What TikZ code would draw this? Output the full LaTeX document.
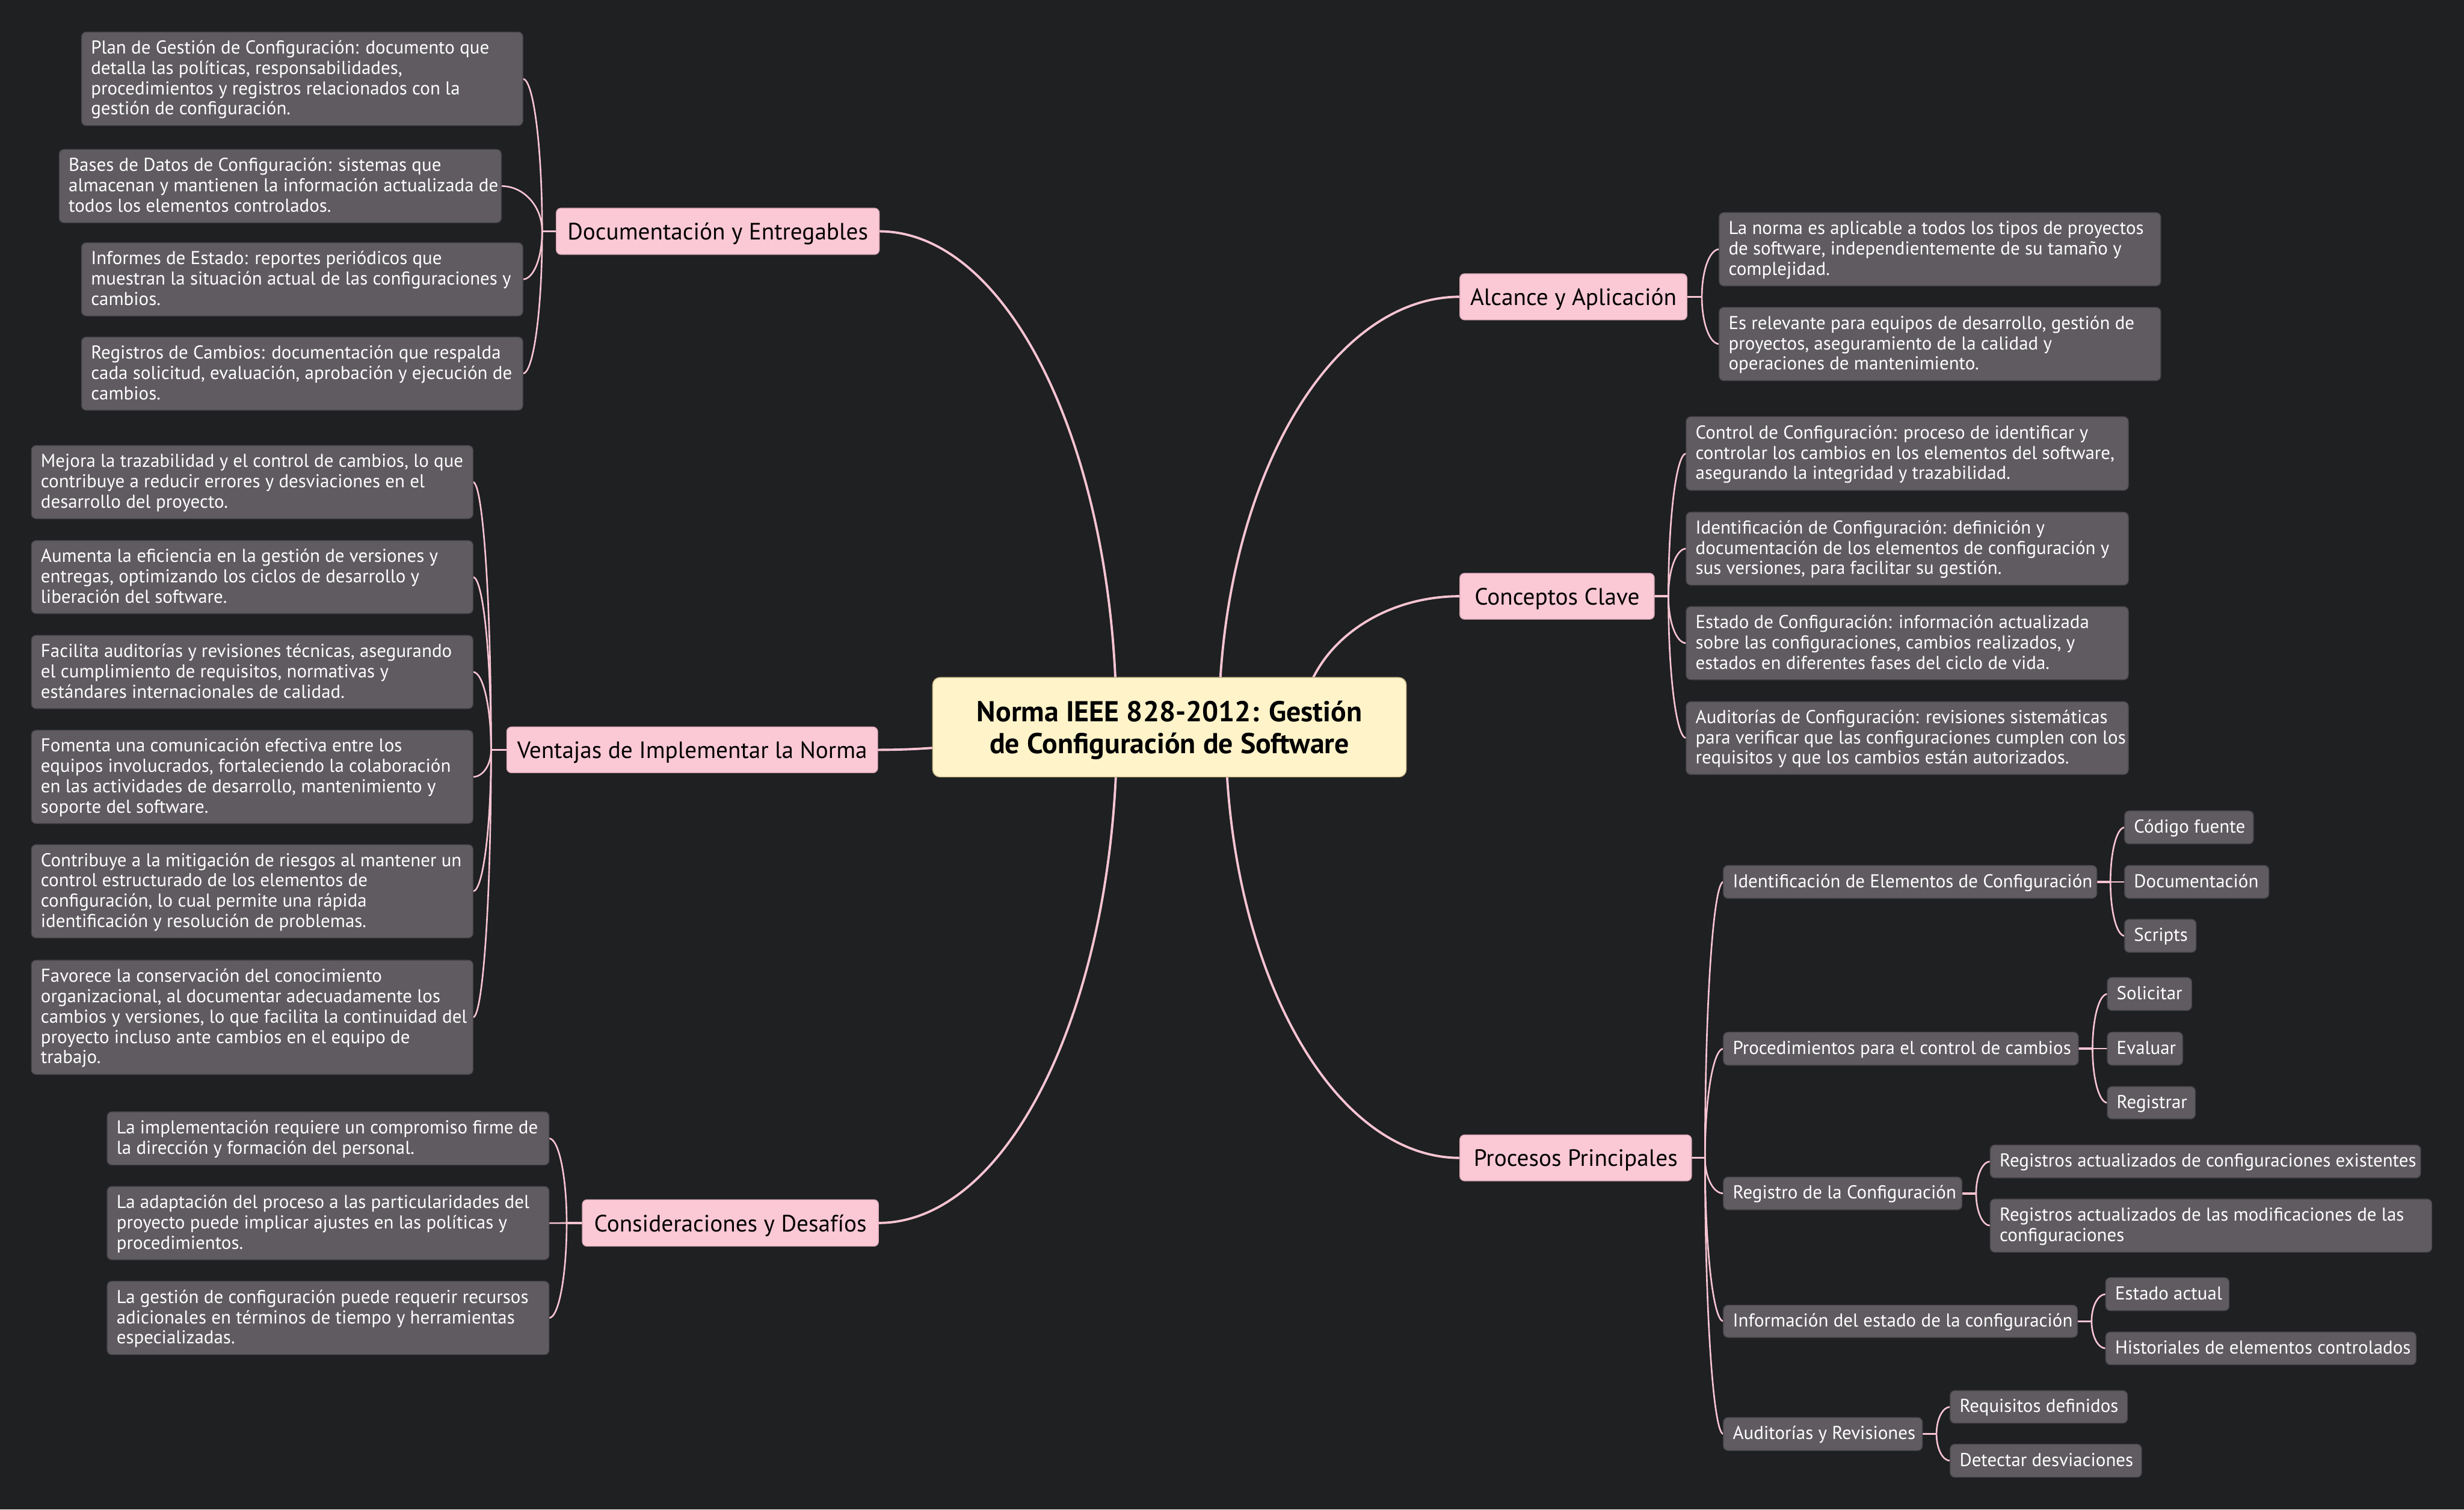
\documentclass[tikz,border=0pt]{standalone}
\usepackage{fontspec}
\setmainfont{PT Sans}
\usetikzlibrary{calc}
\definecolor{bgc}{HTML}{1E2022}
\definecolor{leaff}{HTML}{5F5B60}
\definecolor{leafd}{HTML}{48454A}
\definecolor{pinkf}{HTML}{FBC8D6}
\definecolor{pinkd}{HTML}{DDAAB8}
\definecolor{rootf}{HTML}{FFF3C9}
\definecolor{rootd}{HTML}{C9B98A}
\definecolor{linec}{HTML}{F8C4D2}
\pgfdeclarelayer{bglayer}
\pgfdeclarelayer{linelayer}
\pgfsetlayers{bglayer,linelayer,main}
% box with left-aligned text: style, name, x1, y1, x2, y2, text
\newcommand\bx[7]{%
  \pgfmathsetmacro\bw{(#5-#3)*0.7423}%
  \pgfmathsetmacro\bh{(#6-#4)*0.7423}%
  \pgfmathsetmacro\tw{(#5-#3-12)*0.7423}%
  \node[#1, minimum width=\bw pt, minimum height=\bh pt] (#2) at ({(#3+#5)/2},{(#4+#6)/2})
    {\makebox[\tw pt][l]{\raisebox{-0.7pt}[\height][\depth]{\begin{tabular}{@{}l@{}}#7\end{tabular}}}};}
% box with centred text
\newcommand\bc[7]{%
  \pgfmathsetmacro\bw{(#5-#3)*0.7423}%
  \pgfmathsetmacro\bh{(#6-#4)*0.7423}%
  \node[#1, minimum width=\bw pt, minimum height=\bh pt] (#2) at ({(#3+#5)/2},{(#4+#6)/2}) {#7};}
% elliptic connector
\newcommand\elc[3]{%
  \draw[#1] let \p1=(#2), \p2=(#3) in
    (\p1) .. controls (\x1,{\y1+0.552*(\y2-\y1)}) and ({\x2+0.552*(\x1-\x2)},\y2) .. (\p2);}
% fan: parent, parent anchor, child anchor, dx, children
\newcommand\fan[5]{%
  \coordinate (#1T) at ($(#1.#2)+(#4,0)$);
  \draw[stubline] (#1.#2) -- (#1T);
  \foreach \c in {#5}{\elc{subline}{#1T}{\c.#3}}}
\tikzset{
  leaf/.style={fill=leaff, draw=leafd, line width=0.4pt, rounded corners=2.2pt, inner sep=0pt, outer sep=0pt, text=white, font=\fontsize{8.8}{9.6}\selectfont},
  pinkbox/.style={fill=pinkf, draw=pinkd, line width=0.4pt, rounded corners=2.2pt, inner sep=0pt, outer sep=0pt, text=black, text depth=0pt, font=\fontsize{11.15}{13}\selectfont},
  rootbox/.style={fill=rootf, draw=rootd, line width=0.4pt, rounded corners=3.5pt, inner sep=0pt, outer sep=0pt, text=black, text depth=0pt, align=center, font=\bfseries\fontsize{13.6}{15.2}\selectfont},
  mainline/.style={draw=linec, line width=1.1pt},
  subline/.style={draw=linec, line width=0.75pt},
  stubline/.style={draw=linec, line width=1.0pt}
}
\begin{document}
\begin{tikzpicture}[x=0.7423pt, y=-0.7423pt]
\useasboundingbox (0,0) rectangle (1568,960.5);
\begin{pgfonlayer}{bglayer}
\fill[bgc] (0,0) rectangle (1568,960.5);
\end{pgfonlayer}

% root
\bc{rootbox}{root}{593.5}{431.1}{894.9}{494.4}{Norma IEEE 828-2012: Gestión\\de Configuración de Software}

% main branches
\bc{pinkbox}{docs}{354}{132.5}{559.5}{161.9}{Documentación y Entregables}
\bc{pinkbox}{vent}{322.5}{462.6}{558.5}{491.7}{Ventajas de Implementar la Norma}
\bc{pinkbox}{cons}{370.6}{763.4}{559}{793}{Consideraciones y Desafíos}
\bc{pinkbox}{alc}{929}{174.2}{1073.5}{203.5}{Alcance y Aplicación}
\bc{pinkbox}{conc}{929}{364.8}{1052.7}{394}{Conceptos Clave}
\bc{pinkbox}{proc}{929}{722.2}{1076.4}{751.4}{Procesos Principales}

% documentation leaves
\bx{leaf}{L1}{51.9}{20.4}{332.7}{79.9}{Plan de Gestión de Configuración: documento que\\detalla las políticas, responsabilidades,\\procedimientos y registros relacionados con la\\gestión de configuración.}
\bx{leaf}{L2}{37.7}{95.1}{319}{141.7}{Bases de Datos de Configuración: sistemas que\\almacenan y mantienen la información actualizada de\\todos los elementos controlados.}
\bx{leaf}{L3}{51.9}{154.5}{332.7}{201}{Informes de Estado: reportes periódicos que\\muestran la situación actual de las configuraciones y\\cambios.}
\bx{leaf}{L4}{51.9}{214.5}{332.7}{261}{Registros de Cambios: documentación que respalda\\cada solicitud, evaluación, aprobación y ejecución de\\cambios.}

% ventajas leaves
\bx{leaf}{V1}{20}{283.5}{301}{330}{Mejora la trazabilidad y el control de cambios, lo que\\contribuye a reducir errores y desviaciones en el\\desarrollo del proyecto.}
\bx{leaf}{V2}{20}{344}{301}{390.4}{Aumenta la eficiencia en la gestión de versiones y\\entregas, optimizando los ciclos de desarrollo y\\liberación del software.}
\bx{leaf}{V3}{20}{404.3}{301}{450.9}{Facilita auditorías y revisiones técnicas, asegurando\\el cumplimiento de requisitos, normativas y\\estándares internacionales de calidad.}
\bx{leaf}{V4}{20}{464.7}{301}{524}{Fomenta una comunicación efectiva entre los\\equipos involucrados, fortaleciendo la colaboración\\en las actividades de desarrollo, mantenimiento y\\soporte del software.}
\bx{leaf}{V5}{20}{537.5}{301}{596.8}{Contribuye a la mitigación de riesgos al mantener un\\control estructurado de los elementos de\\configuración, lo cual permite una rápida\\identificación y resolución de problemas.}
\bx{leaf}{V6}{20}{611}{301}{683.7}{Favorece la conservación del conocimiento\\organizacional, al documentar adecuadamente los\\cambios y versiones, lo que facilita la continuidad del\\proyecto incluso ante cambios en el equipo de\\trabajo.}

% consideraciones leaves
\bx{leaf}{C1}{68.2}{707.5}{349.4}{741.3}{La implementación requiere un compromiso firme de\\la dirección y formación del personal.}
\bx{leaf}{C2}{68.2}{755}{349.4}{801.6}{La adaptación del proceso a las particularidades del\\proyecto puede implicar ajustes en las políticas y\\procedimientos.}
\bx{leaf}{C3}{68.2}{815.3}{349.4}{862}{La gestión de configuración puede requerir recursos\\adicionales en términos de tiempo y herramientas\\especializadas.}

% alcance leaves
\bx{leaf}{A1}{1094}{135.3}{1375}{181.9}{La norma es aplicable a todos los tipos de proyectos\\de software, independientemente de su tamaño y\\complejidad.}
\bx{leaf}{A2}{1094}{195.6}{1375}{242.2}{Es relevante para equipos de desarrollo, gestión de\\proyectos, aseguramiento de la calidad y\\operaciones de mantenimiento.}

% conceptos leaves
\bx{leaf}{K1}{1073}{265.2}{1354.4}{312}{Control de Configuración: proceso de identificar y\\controlar los cambios en los elementos del software,\\asegurando la integridad y trazabilidad.}
\bx{leaf}{K2}{1073}{325.9}{1354.4}{372.3}{Identificación de Configuración: definición y\\documentación de los elementos de configuración y\\sus versiones, para facilitar su gestión.}
\bx{leaf}{K3}{1073}{386}{1354.4}{432.5}{Estado de Configuración: información actualizada\\sobre las configuraciones, cambios realizados, y\\estados en diferentes fases del ciclo de vida.}
\bx{leaf}{K4}{1073}{446.5}{1354.4}{492.8}{Auditorías de Configuración: revisiones sistemáticas\\para verificar que las configuraciones cumplen con los\\requisitos y que los cambios están autorizados.}

% procesos sub-nodes
\bx{leaf}{P1}{1096.7}{550.7}{1334.3}{571.6}{Identificación de Elementos de Configuración}
\bx{leaf}{P1a}{1352}{516}{1434}{537}{Código fuente}
\bx{leaf}{P1b}{1352}{550.7}{1443.8}{571.6}{Documentación}
\bx{leaf}{P1c}{1352}{585}{1397.5}{606}{Scripts}
\bx{leaf}{P2}{1096.7}{656.8}{1322.6}{677.8}{Procedimientos para el control de cambios}
\bx{leaf}{P2a}{1341}{622}{1394.7}{643}{Solicitar}
\bx{leaf}{P2b}{1341}{656.8}{1389}{677.8}{Evaluar}
\bx{leaf}{P2c}{1341}{691.4}{1397}{712}{Registrar}
\bx{leaf}{P3}{1096.7}{749}{1248.5}{769.8}{Registro de la Configuración}
\bx{leaf}{P3a}{1266.5}{728.6}{1540.4}{749.5}{Registros actualizados de configuraciones existentes}
\bx{leaf}{P3b}{1266.5}{763}{1547.5}{796.8}{Registros actualizados de las modificaciones de las\\configuraciones}
\bx{leaf}{P4}{1096.7}{830.5}{1322}{851}{Información del estado de la configuración}
\bx{leaf}{P4a}{1340}{813}{1418.5}{834}{Estado actual}
\bx{leaf}{P4b}{1340}{847.6}{1537.5}{868.4}{Historiales de elementos controlados}
\bx{leaf}{P5}{1096.7}{902}{1223.3}{923}{Auditorías y Revisiones}
\bx{leaf}{P5a}{1241}{884.9}{1353.8}{905.6}{Requisitos definidos}
\bx{leaf}{P5b}{1241}{919}{1362.8}{940}{Detectar desviaciones}

\begin{pgfonlayer}{linelayer}
% root to branches
\elc{mainline}{$(root.center)+(-33.7,0)$}{docs.east}
\elc{mainline}{$(root.center)+(-100,0)$}{vent.east}
\elc{mainline}{$(root.center)+(-33.4,0)$}{cons.east}
\elc{mainline}{$(root.center)+(31.4,0)$}{alc.west}
\elc{mainline}{$(root.center)+(84,0)$}{conc.west}
\elc{mainline}{$(root.center)+(35.7,0)$}{proc.west}
% branches to leaves
\fan{docs}{west}{east}{-9}{L1,L2,L3,L4}
\fan{vent}{west}{east}{-10}{V1,V2,V3,V4,V5,V6}
\fan{cons}{west}{east}{-10}{C1,C2,C3}
\fan{alc}{east}{west}{9.5}{A1,A2}
\fan{conc}{east}{west}{9}{K1,K2,K3,K4}
\fan{proc}{east}{west}{8.6}{P1,P2,P3,P4,P5}
\fan{P1}{east}{west}{8.7}{P1a,P1b,P1c}
\fan{P2}{east}{west}{9}{P2a,P2b,P2c}
\fan{P3}{east}{west}{9}{P3a,P3b}
\fan{P4}{east}{west}{9}{P4a,P4b}
\fan{P5}{east}{west}{9}{P5a,P5b}
\end{pgfonlayer}
\end{tikzpicture}
\end{document}
